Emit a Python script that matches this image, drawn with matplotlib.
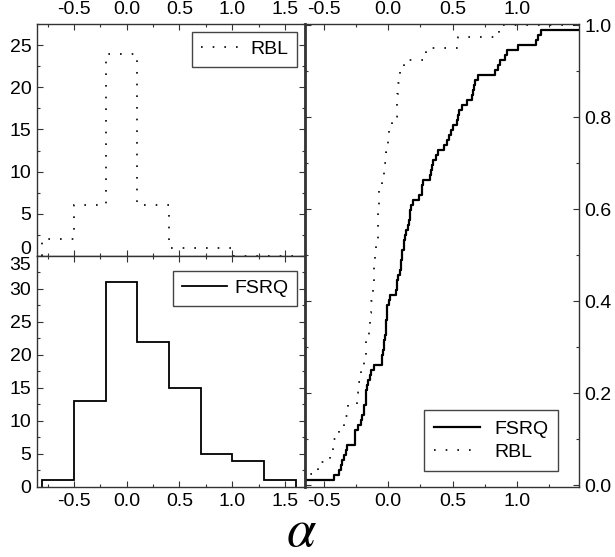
import matplotlib
matplotlib.use('Agg')
import matplotlib.pyplot as plt
import matplotlib.transforms as mtransforms
from matplotlib.ticker import MultipleLocator, FormatStrFormatter
import numpy as np

plt.rcParams['font.family'] = ['Liberation Sans', 'DejaVu Sans']
plt.rcParams['font.size'] = 14
plt.rcParams['axes.unicode_minus'] = False
plt.rcParams['mathtext.fontset'] = 'stix'

# histogram bins in alpha and counts (left panels)
bin_edges = [-0.8, -0.5, -0.2, 0.1, 0.4, 0.7, 1.0, 1.3, 1.6]
rbl_counts = [2, 6, 24, 6, 1, 1, 0, 0]
fsrq_counts = [1, 13, 31, 22, 15, 5, 4, 1]

# sorted alpha values behind the cumulative curves (right panel)
fsrq_alpha = [-0.70, -0.42, -0.38, -0.365, -0.355, -0.345, -0.33, -0.32, -0.26, -0.26,
              -0.255, -0.23, -0.21, -0.205, -0.19, -0.185, -0.175, -0.17, -0.168, -0.165,
              -0.16, -0.14, -0.13, -0.106, -0.05, -0.045, -0.04, -0.035, -0.03, -0.025,
              -0.02, -0.018, -0.015, -0.012, -0.01, -0.005, 0.005, 0.016, 0.06, 0.065,
              0.07, 0.08, 0.093, 0.098, 0.099, 0.106, 0.11, 0.12, 0.125, 0.13,
              0.135, 0.157, 0.165, 0.17, 0.173, 0.18, 0.19, 0.243, 0.26, 0.265,
              0.27, 0.326, 0.335, 0.34, 0.346, 0.372, 0.39, 0.436, 0.46, 0.475,
              0.49, 0.50, 0.533, 0.545, 0.553, 0.571, 0.615, 0.649, 0.66, 0.668,
              0.674, 0.695, 0.83, 0.85, 0.868, 0.91, 0.92, 1.01, 1.15, 1.165,
              1.186, 1.52]
rbl_alpha = [-0.70, -0.545, -0.45, -0.43, -0.38, -0.34, -0.31, -0.24, -0.23, -0.21,
             -0.19, -0.175, -0.17, -0.15, -0.14, -0.13, -0.12, -0.11, -0.108, -0.10,
             -0.093, -0.082, -0.08, -0.075, -0.07, -0.068, -0.05, -0.03, -0.013, 0.0,
             0.01, 0.03, 0.065, 0.067, 0.078, 0.09, 0.12, 0.29, 0.54, 0.86]

DOTS = (0, (1, 6))
EDGE = '#333333'


def style_axis(ax):
    ax.tick_params(which='both', direction='in', top=True, right=True,
                   color=EDGE)
    ax.tick_params(which='major', length=4, width=0.8, pad=4)
    ax.tick_params(which='minor', length=2, width=0.8)
    for s in ax.spines.values():
        s.set_linewidth(1.0)
        s.set_color(EDGE)


def legend(ax, **kw):
    leg = ax.legend(frameon=True, fancybox=False, framealpha=1, **kw)
    leg.get_frame().set_edgecolor('#444444')
    leg.get_frame().set_linewidth(1.0)
    return leg


def cdf_steps(vals, xmax):
    v = np.sort(np.asarray(vals))
    n = len(v)
    x = np.r_[v[0], v, xmax]
    y = np.r_[0, np.arange(1, n + 1) / n, 1.0]
    return x, y


def nudge_label(ax, index, dy_px):
    # shift one y tick label up/down so the shared 0 / 35 labels don't collide
    lab = ax.yaxis.get_major_ticks()[index].label1
    off = mtransforms.ScaledTranslation(0, dy_px / 100.0, ax.figure.dpi_scale_trans)
    lab.set_transform(lab.get_transform() + off)


fig = plt.figure(figsize=(6.15, 5.57), dpi=100)

ax_top = fig.add_axes([0.0602, 0.5404, 0.4358, 0.4165])
ax_bot = fig.add_axes([0.0602, 0.1257, 0.4358, 0.4147])
ax_cdf = fig.add_axes([0.4959, 0.1257, 0.4455, 0.8312])

# top left: RBL histogram
ax_top.stairs(rbl_counts, bin_edges, color='k', ls=DOTS, lw=1.2, label='RBL')
ax_top.set_xlim(-0.85, 1.69)
ax_top.set_ylim(0, 27.5)
ax_top.xaxis.set_major_locator(MultipleLocator(0.5))
ax_top.xaxis.set_minor_locator(MultipleLocator(0.25))
ax_top.xaxis.set_major_formatter(FormatStrFormatter('%.1f'))
ax_top.yaxis.set_major_locator(MultipleLocator(5))
ax_top.yaxis.set_minor_locator(MultipleLocator(2.5))
style_axis(ax_top)
ax_top.tick_params(labeltop=True, labelbottom=False)
legend(ax_top, loc='upper right', handlelength=2.0, handletextpad=0.55,
       borderpad=0.45, borderaxespad=0.4)

# bottom left: FSRQ histogram
ax_bot.stairs(fsrq_counts, bin_edges, color='k', lw=1.3, label='FSRQ')
ax_bot.set_xlim(-0.85, 1.69)
ax_bot.set_ylim(0, 35)
ax_bot.xaxis.set_major_locator(MultipleLocator(0.5))
ax_bot.xaxis.set_minor_locator(MultipleLocator(0.25))
ax_bot.xaxis.set_major_formatter(FormatStrFormatter('%.1f'))
ax_bot.yaxis.set_major_locator(MultipleLocator(5))
ax_bot.yaxis.set_minor_locator(MultipleLocator(2.5))
style_axis(ax_bot)
legend(ax_bot, loc='upper right', handlelength=2.3, handletextpad=0.4,
       borderpad=0.45, borderaxespad=0.4, bbox_to_anchor=(1.0, 0.97))

# right: cumulative distributions
x_f, y_f = cdf_steps(fsrq_alpha, 2.0)
x_r, y_r = cdf_steps(rbl_alpha, 2.0)
ax_cdf.step(x_f, y_f, where='post', color='k', lw=1.6, label='FSRQ')
ax_cdf.step(x_r, y_r, where='post', color='k', lw=1.2, ls=DOTS, label='RBL')
ax_cdf.set_xlim(-0.645, 1.48)
ax_cdf.set_ylim(-0.004, 1.003)
ax_cdf.xaxis.set_major_locator(MultipleLocator(0.5))
ax_cdf.xaxis.set_minor_locator(MultipleLocator(0.25))
ax_cdf.xaxis.set_major_formatter(FormatStrFormatter('%.1f'))
ax_cdf.yaxis.set_major_locator(MultipleLocator(0.2))
ax_cdf.yaxis.set_minor_locator(MultipleLocator(0.1))
ax_cdf.yaxis.set_major_formatter(FormatStrFormatter('%.1f'))
style_axis(ax_cdf)
ax_cdf.tick_params(labeltop=True, labelbottom=True, labelleft=False,
                   labelright=True)
ax_cdf.spines['left'].set_linewidth(2.0)
legend(ax_cdf, loc='lower right', bbox_to_anchor=(0.923, 0.035),
       handlelength=2.4, handletextpad=0.7, borderpad=0.5, labelspacing=0.3,
       borderaxespad=0)

# keep the "0" of the top panel and the "35" of the bottom panel apart
ax_top.set_yticks([0, 5, 10, 15, 20, 25])
ax_bot.set_yticks([0, 5, 10, 15, 20, 25, 30, 35])
nudge_label(ax_top, 0, 8)
nudge_label(ax_bot, 7, -8)

fig.text(0.491, 0.045, r'$\alpha$', fontsize=38, ha='center', va='center')

fig.savefig('out.png', dpi=100)
